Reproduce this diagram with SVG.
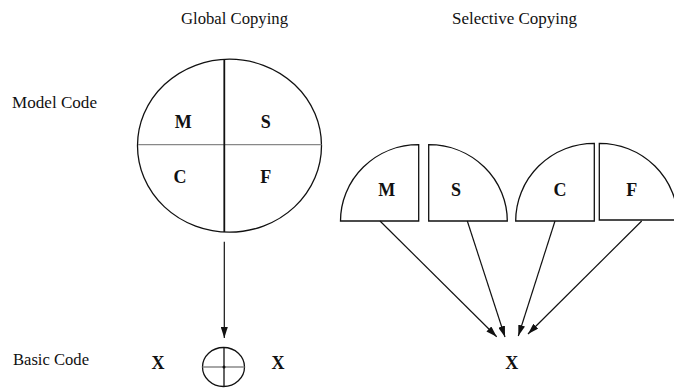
<svg xmlns="http://www.w3.org/2000/svg" width="674" height="388" viewBox="0 0 674 388">
<style>
.t{font-family:"Liberation Serif","Times New Roman",serif;font-size:16.5px;fill:#111}
.b{font-family:"Liberation Serif","Times New Roman",serif;font-size:18px;font-weight:bold;fill:#111;text-anchor:middle}
.sh{fill:#fff;stroke:#111;stroke-width:1.3}
.ln{stroke:#111;stroke-width:1.2;fill:none}
.g{stroke:#888;stroke-width:1.3}
</style>
<defs>
<marker id="ah" markerUnits="userSpaceOnUse" viewBox="0 0 11 7" markerWidth="11" markerHeight="7" refX="11" refY="3.5" orient="auto">
<path d="M0,0 L11,3.5 L0,7 z" fill="#111"/>
</marker>
</defs>
<rect width="674" height="388" fill="#fff"/>
<g id="labels">
<text class="t" x="181" y="23.5" textLength="107" lengthAdjust="spacingAndGlyphs">Global Copying</text>
<text class="t" x="452" y="24" textLength="125" lengthAdjust="spacingAndGlyphs">Selective Copying</text>
<text class="t" x="12" y="108" textLength="85" lengthAdjust="spacingAndGlyphs">Model Code</text>
<text class="t" x="13" y="365" textLength="76" lengthAdjust="spacingAndGlyphs">Basic Code</text>
</g>
<g id="global-circle">
<ellipse class="sh" cx="229.5" cy="145.7" rx="92" ry="86.5"/>
<line class="g" x1="138" y1="144.7" x2="321.5" y2="144.7"/>
<line x1="224.3" y1="59.3" x2="224.3" y2="232" stroke="#111" stroke-width="1.8"/>
<text class="b" x="183.3" y="127.5">M</text>
<text class="b" x="265.8" y="127.5">S</text>
<text class="b" x="180" y="183">C</text>
<text class="b" x="265.8" y="183">F</text>
</g>
<g id="basic-global">
<text class="b" x="158" y="368.5">X</text>
<ellipse class="sh" cx="223.5" cy="367" rx="21" ry="19.5"/>
<line class="g" x1="202.5" y1="367" x2="244.5" y2="367"/>
<line x1="224" y1="347.5" x2="224" y2="386.5" stroke="#111" stroke-width="1.3"/>
<circle cx="224" cy="367" r="1.5" fill="#111"/>
<text class="b" x="278" y="368.5">X</text>
</g>
<g id="quarter-M">
<path class="sh" d="M340.5,221 A78.2,76.3 0 0 1 418.7,144.7 L418.7,221 Z"/>
<text class="b" x="386.7" y="195.5">M</text>
</g>
<g id="quarter-S">
<path class="sh" d="M428.7,221 L428.7,144.7 A78.6,76.3 0 0 1 507.3,221 Z"/>
<text class="b" x="456" y="195.5">S</text>
</g>
<g id="quarter-C">
<path class="sh" d="M515.7,221 A78.6,77.7 0 0 1 594.3,143.3 L594.3,221 Z"/>
<text class="b" x="560" y="195.5">C</text>
</g>
<g id="quarter-F">
<path class="sh" d="M599.3,220 L599.3,143.3 A78.6,77.7 0 0 1 677.9,221 L677.9,220 Z"/>
<text class="b" x="631.7" y="195.5">F</text>
</g>
<g id="basic-selective">
<text class="b" x="511.7" y="368.5">X</text>
</g>
<g id="connectors">
<line class="ln" x1="224.3" y1="241.7" x2="224.3" y2="338" marker-end="url(#ah)"/>
<line class="ln" x1="380" y1="221" x2="496.7" y2="336.7" marker-end="url(#ah)"/>
<line class="ln" x1="467.3" y1="221" x2="505" y2="337" marker-end="url(#ah)"/>
<line class="ln" x1="555" y1="221" x2="518.3" y2="336" marker-end="url(#ah)"/>
<line class="ln" x1="641.7" y1="221" x2="528" y2="334" marker-end="url(#ah)"/>
</g>
</svg>
